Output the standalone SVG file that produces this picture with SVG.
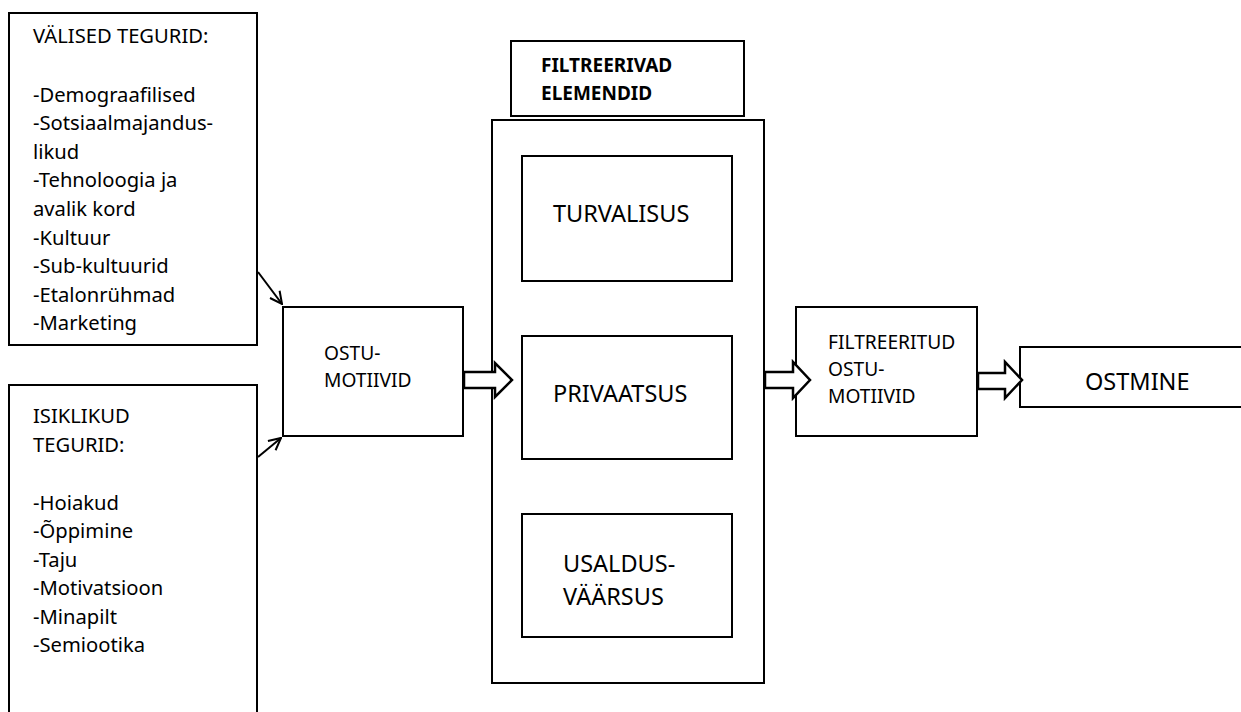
<svg xmlns="http://www.w3.org/2000/svg" width="1241" height="712" viewBox="0 0 1241 712">
<style>
.box{fill:#fff;stroke:#000;stroke-width:2}
.t{font-family:"Noto Sans","Open Sans",sans-serif;fill:#000}
.s{font-size:20.2px}
.m{font-size:19.2px}
.l{font-size:23.5px}
.b{font-size:19px;font-weight:bold}
.ba{fill:#fff;stroke:#000;stroke-width:2.5;stroke-linejoin:miter}
.cn{fill:none;stroke:#000;stroke-width:2}
</style>
<defs>
<marker id="open" viewBox="0 0 14 14" refX="13" refY="7" markerWidth="14" markerHeight="14" markerUnits="userSpaceOnUse" orient="auto">
<path d="M1,1 L13,7 L1,13" fill="none" stroke="#000" stroke-width="2"/>
</marker>
</defs>
<rect width="1241" height="712" fill="#fff"/>
<g id="valised">
<rect class="box" x="9" y="13" width="248" height="332"/>
<text class="t s" x="33" y="43">VÄLISED TEGURID:</text>
<text class="t s" x="33" y="101.5">-Demograafilised</text>
<text class="t s" x="33" y="130">-Sotsiaalmajandus-</text>
<text class="t s" x="33" y="158.5">likud</text>
<text class="t s" x="33" y="187">-Tehnoloogia ja</text>
<text class="t s" x="33" y="216">avalik kord</text>
<text class="t s" x="33" y="244.5">-Kultuur</text>
<text class="t s" x="33" y="273">-Sub-kultuurid</text>
<text class="t s" x="33" y="301.5">-Etalonrühmad</text>
<text class="t s" x="33" y="330">-Marketing</text>
</g>
<g id="isiklikud">
<rect class="box" x="9" y="385" width="248" height="340"/>
<text class="t s" x="33" y="423">ISIKLIKUD</text>
<text class="t s" x="33" y="452">TEGURID:</text>
<text class="t s" x="33" y="509.5">-Hoiakud</text>
<text class="t s" x="33" y="538">-Õppimine</text>
<text class="t s" x="33" y="566.5">-Taju</text>
<text class="t s" x="33" y="595">-Motivatsioon</text>
<text class="t s" x="33" y="623.5">-Minapilt</text>
<text class="t s" x="33" y="652">-Semiootika</text>
</g>
<g id="ostumotiivid">
<rect class="box" x="283" y="307" width="180" height="129"/>
<text class="t m" x="324" y="360">OSTU-</text>
<text class="t m" x="324" y="387">MOTIIVID</text>
</g>
<g id="filtreerivad">
<rect class="box" x="492" y="120" width="272" height="563"/>
<rect class="box" x="511" y="41" width="233" height="75"/>
<text class="t b" x="541" y="72">FILTREERIVAD</text>
<text class="t b" x="541" y="100">ELEMENDID</text>
</g>
<g id="turvalisus">
<rect class="box" x="522" y="156" width="210" height="125"/>
<text class="t l" x="553" y="222">TURVALISUS</text>
</g>
<g id="privaatsus">
<rect class="box" x="522" y="336" width="210" height="123"/>
<text class="t l" x="553" y="402">PRIVAATSUS</text>
</g>
<g id="usaldusvaarsus">
<rect class="box" x="522" y="514" width="210" height="123"/>
<text class="t l" x="563" y="572">USALDUS-</text>
<text class="t l" x="563" y="605">VÄÄRSUS</text>
</g>
<g id="filtreeritud">
<rect class="box" x="796" y="307" width="181" height="129"/>
<text class="t m" x="828" y="349">FILTREERITUD</text>
<text class="t m" x="828" y="376">OSTU-</text>
<text class="t m" x="828" y="403">MOTIIVID</text>
</g>
<g id="ostmine">
<rect class="box" x="1020" y="347" width="230" height="60"/>
<text class="t l" x="1085" y="390">OSTMINE</text>
</g>
<g id="connectors">
<line class="cn" x1="258" y1="272" x2="282" y2="304" marker-end="url(#open)"/>
<line class="cn" x1="258" y1="457" x2="281" y2="438" marker-end="url(#open)"/>
<polygon class="ba" points="464,372 495,372 495,363 512,380 495,397 495,388 464,388"/>
<polygon class="ba" points="765,372 793,372 793,362 810,380 793,398 793,388 765,388"/>
<polygon class="ba" points="978,373 1005,373 1005,362 1022,380 1005,398 1005,389 978,389"/>
</g>
</svg>
